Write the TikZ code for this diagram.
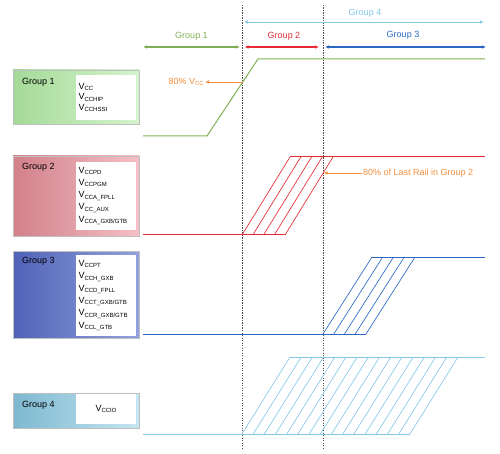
\documentclass[tikz,border=0pt]{standalone}
\usepackage{fontspec}
\setmainfont{Liberation Sans}
\usetikzlibrary{arrows.meta,shadows}

% colours of the four rail groups
\definecolor{grpone}{RGB}{128,176,86}
\definecolor{grptwo}{RGB}{232,42,52}
\definecolor{grpthree}{RGB}{42,104,196}
\definecolor{grpfour}{RGB}{132,200,234}
\definecolor{pctorange}{RGB}{242,142,62}
\definecolor{onedark}{RGB}{165,218,152}
\definecolor{onelight}{RGB}{212,244,205}
\definecolor{twodark}{RGB}{210,128,138}
\definecolor{twolight}{RGB}{244,192,198}
\definecolor{threedark}{RGB}{80,98,182}
\definecolor{threelight}{RGB}{145,162,222}
\definecolor{fourdark}{RGB}{125,184,208}
\definecolor{fourlight}{RGB}{198,230,242}

% supply rail name: V with small subscript
\newcommand{\rail}[1]{V\raisebox{-1.4pt}{\fontsize{6}{6}\selectfont #1}}

\tikzset{
  groupbox/.style={minimum width=126pt, inner sep=0pt, draw=black!25, line width=0.4pt,
    drop shadow={shadow xshift=1.2pt, shadow yshift=-1.2pt, fill=black!45, opacity=0.8}},
  railbox/.style={fill=white, inner sep=0pt, minimum width=60pt, text width=55pt, align=left},
  grouplabel/.style={anchor=west, inner sep=0pt, font=\fontsize{9}{11}\selectfont},
  guide/.style={draw=black!70, line width=0.8pt, dash pattern=on 1.2pt off 1.3pt},
  wave/.style={line width=1pt},
  hatch/.style={line width=0.65pt},
  span/.style={line width=1.1pt, {Latex[length=4pt,width=3.5pt]}-{Latex[length=4pt,width=3.5pt]}},
  pctarrow/.style={draw=pctorange, line width=0.8pt, -{Latex[length=4pt,width=3.5pt]}},
  pcttext/.style={text=pctorange, inner sep=1pt, font=\fontsize{9}{11}\selectfont},
}

\begin{document}
\begin{tikzpicture}[x=1pt, y=-1pt, line join=round]

  %% group boxes on the left
  \node[groupbox, minimum height=54pt, left color=onedark, right color=onelight] (g1box) at (76,97) {};
  \node[groupbox, minimum height=80pt, left color=twodark, right color=twolight] (g2box) at (76,196) {};
  \node[groupbox, minimum height=87pt, left color=threedark, right color=threelight] (g3box) at (76,294.5) {};
  \node[groupbox, minimum height=35pt, left color=fourdark, right color=fourlight] (g4box) at (76,410.5) {};

  \node[grouplabel] (g1name) at (22,82) {Group 1};
  \node[grouplabel] (g2name) at (22,167) {Group 2};
  \node[grouplabel] (g3name) at (22,261) {Group 3};
  \node[grouplabel] (g4name) at (22,405) {Group 4};

  %% rail lists
  \node[railbox, minimum height=45pt, font=\fontsize{9}{10.5}\selectfont] (g1rails) at (106,97.5)
    {\rail{CC}\\ \rail{CCHIP}\\ \rail{CCHSSI}};
  \node[railbox, minimum height=68pt, font=\fontsize{9}{12.2}\selectfont] (g2rails) at (106,196)
    {\rail{CCPD}\\ \rail{CCPGM}\\ \rail{CCA\_FPLL}\\ \rail{CC\_AUX}\\ \rail{CCA\_GXB/GTB}};
  \node[railbox, minimum height=81pt, font=\fontsize{9}{12.4}\selectfont] (g3rails) at (106,295.5)
    {\rail{CCPT}\\ \rail{CCH\_GXB}\\ \rail{CCD\_FPLL}\\ \rail{CCT\_GXB/GTB}\\ \rail{CCR\_GXB/GTB}\\ \rail{CCL\_GTB}};
  \node[railbox, minimum height=30pt, align=center, font=\fontsize{9}{10}\selectfont] (g4rails) at (106,409)
    {\rail{CCIO}};

  %% dotted time markers
  \draw[guide] (242,5) -- (242,448);
  \draw[guide] (323,5) -- (323,448);

  %% spans on top
  \coordinate (s1a) at (143,47);  \coordinate (s1b) at (240,47);
  \coordinate (s2a) at (244.5,47); \coordinate (s2b) at (319,47);
  \coordinate (s3a) at (325,47);  \coordinate (s3b) at (486,47);
  \coordinate (s4a) at (244,22);  \coordinate (s4b) at (484,22);
  \draw[span, grpone] (s1a) -- (s1b);
  \draw[span, grptwo] (s2a) -- (s2b);
  \draw[span, grpthree] (s3a) -- (s3b);
  \draw[span, grpfour, line width=0.7pt] (s4a) -- (s4b);
  \node[grouplabel, anchor=center, text=grpone] (t1) at (191.5,36) {Group 1};
  \node[grouplabel, anchor=center, text=grptwo] (t2) at (284,36) {Group 2};
  \node[grouplabel, anchor=center, text=grpthree] (t3) at (403,35) {Group 3};
  \node[grouplabel, anchor=center, text=grpfour] (t4) at (365,13) {Group 4};

  %% group 1 ramp
  \draw[wave, grpone] (143,136) -- (207,136) -- (258,59) -- (485,59);
  \node[pcttext, anchor=east] (vccpct) at (205,82) {80\% \rail{CC}};
  \coordinate (cross1) at (242.5,82);
  \draw[pctarrow] (cross1) -- (vccpct);

  %% group 2 ramps
  \draw[wave, grptwo] (143,235) -- (285,235);
  \draw[wave, grptwo] (290,157) -- (485,157);
  \foreach \i in {0,...,4}
    \draw[hatch, grptwo] ({242+10.75*\i},235) -- ({290+10.75*\i},157);
  \node[pcttext, anchor=west] (lastrail) at (362,173) {80\% of Last Rail in Group 2};
  \coordinate (cross2) at (323.5,173);
  \draw[pctarrow] (lastrail) -- (cross2);

  %% group 3 ramps
  \draw[wave, grpthree] (143,334) -- (366,334);
  \draw[wave, grpthree] (372,257) -- (485,257);
  \foreach \i in {0,...,4}
    \draw[hatch, grpthree] ({323+10.75*\i},334) -- ({372+10.75*\i},257);

  %% group 4 ramps
  \draw[wave, grpfour] (143,434) -- (410,434);
  \draw[wave, grpfour] (290,357) -- (485,357);
  \foreach \i in {0,...,15}
    \draw[hatch, grpfour] ({242+11.2*\i},434) -- ({290+11.2*\i},357);

  \pgfresetboundingbox
  \path[use as bounding box] (0,0) rectangle (500,454);
\end{tikzpicture}
\end{document}
